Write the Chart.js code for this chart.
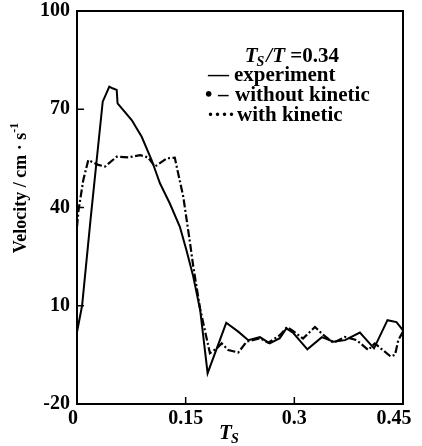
<!DOCTYPE html>
<html>
<head>
<meta charset="utf-8">
<script src="https://cdn.jsdelivr.net/npm/chart.js@4"></script>
<style>
  html, body { margin: 0; padding: 0; background: #fff; }
  #wrap { width: 422px; height: 446px; }
</style>
</head>
<body>
<div id="wrap"><canvas id="c" width="422" height="446"></canvas></div>
<script>
const xTicks = [0, 0.15, 0.3, 0.45];
const yTicks = [-20, 10, 40, 70, 100];

// experiment (solid)
const expX = [0, 0.007, 0.019, 0.0355, 0.0446, 0.049, 0.0548, 0.056, 0.0755, 0.0893,
  0.103, 0.1145, 0.128, 0.142, 0.151, 0.1605, 0.170, 0.1803, 0.206, 0.2226,
  0.2364, 0.2525, 0.266, 0.280, 0.289, 0.298, 0.318, 0.338, 0.354, 0.37,
  0.3905, 0.410, 0.4286, 0.441, 0.450];
const expY = [2, 10, 37, 72.3, 76.9, 76.4, 75.9, 71.8, 66.7, 61.6,
  54.5, 47.4, 41.3, 34.1, 27, 18.9, 8.7, -10.6, 4.8, 2.1,
  -0.5, 0.4, -1.5, 0.1, 3.1, 1.8, -3.3, 0.4, -1.0, -0.5,
  1.8, -3.0, 5.6, 5.0, 2.5];

// model curves (dash and dotted lie on top of each other)
const modelX = [0, 0.002, 0.0087, 0.0156, 0.0294, 0.0386, 0.0548, 0.0708, 0.087, 0.098,
  0.1076, 0.1238, 0.135, 0.1376, 0.1467, 0.156, 0.1605, 0.170, 0.177, 0.1835,
  0.193, 0.1997, 0.2088, 0.2226, 0.234, 0.2525, 0.264, 0.280, 0.290, 0.300,
  0.312, 0.3285, 0.340, 0.354, 0.37, 0.386, 0.402, 0.411, 0.422, 0.433,
  0.439, 0.4435, 0.450];
const withoutKineticY = [34, 39, 48.4, 54.5, 53, 52.5, 55.5, 55.3, 56, 55.3,
  52.5, 55, 55.2, 52.5, 43.3, 29.2, 22, 9, 2, -4.5,
  -3.0, -1.5, -3.5, -4.3, -1.0, 0.1, -1.3, 1.0, 3.5, 2.0,
  0.0, 3.5, 1.1, -1.3, 0.5, -0.5, -3.5, -1.5, -3.5, -5.5,
  -5.0, -0.5, 2.1];
const withKineticY = [34, 39, 48.4, 54.5, 53, 52.5, 55.5, 55.3, 56, 55.3,
  52.5, 55, 55.2, 52.5, 43.3, 29.2, 22, 9, 2, -4.5,
  -3.0, -1.5, -3.5, -4.3, -1.0, 0.1, -1.3, 1.0, 3.5, 2.0,
  0.0, 3.5, 1.1, -1.3, 0.5, -0.5, -3.5, -1.5, -3.5, -5.5,
  -5.0, -0.5, 2.1];

const pts = (xs, ys) => xs.map((x, i) => ({ x, y: ys[i] }));

const SERIF = '"Liberation Serif", "Times New Roman", serif';

// draws the box, inward ticks, x labels, axis titles and the text legend
const decorations = {
  id: 'decorations',
  afterDraw(chart) {
    const { ctx, chartArea: a, scales } = chart;
    ctx.save();
    ctx.strokeStyle = '#000';
    ctx.lineWidth = 2;
    ctx.strokeRect(a.left, a.top, a.right - a.left, a.bottom - a.top);

    ctx.lineWidth = 1.5;
    ctx.beginPath();
    yTicks.forEach(v => {
      const y = scales.y.getPixelForValue(v);
      ctx.moveTo(a.left, y); ctx.lineTo(a.left + 7, y);
    });
    xTicks.forEach(v => {
      const x = scales.x.getPixelForValue(v);
      ctx.moveTo(x, a.bottom); ctx.lineTo(x, a.bottom - 7);
    });
    ctx.stroke();

    ctx.fillStyle = '#000';

    // x tick labels (the outer two sit a little to the left in the original)
    ctx.font = 'bold 20px ' + SERIF;
    ctx.textAlign = 'center';
    ctx.textBaseline = 'top';
    const nudge = [-4, 0, 0, -9];
    xTicks.forEach((v, i) => {
      ctx.fillText(String(v), scales.x.getPixelForValue(v) + nudge[i], a.bottom + 5);
    });

    ctx.textAlign = 'left';
    ctx.textBaseline = 'alphabetic';

    // y title
    ctx.save();
    ctx.translate(26, 188);
    ctx.rotate(-Math.PI / 2);
    ctx.font = 'bold 18px ' + SERIF;
    const main = 'Velocity / cm \u00b7 s';
    const w1 = ctx.measureText(main).width;
    ctx.font = 'bold 12px ' + SERIF;
    const w2 = ctx.measureText('-1').width;
    const sx = -(w1 + w2) / 2;
    ctx.font = 'bold 18px ' + SERIF;
    ctx.fillText(main, sx, 0);
    ctx.font = 'bold 12px ' + SERIF;
    ctx.fillText('-1', sx + w1, -8);
    ctx.restore();

    // x title T_S
    ctx.font = 'italic bold 21px ' + SERIF;
    ctx.fillText('T', 219, 439);
    ctx.font = 'italic bold 14px ' + SERIF;
    ctx.fillText('S', 231, 443);

    // legend header, right end near x=339
    ctx.font = 'bold 21px ' + SERIF;
    const eqW = ctx.measureText('=0.34').width;
    ctx.font = 'italic bold 21px ' + SERIF;
    const tW = ctx.measureText('T').width;
    const slW = ctx.measureText('/T ').width;
    ctx.font = 'italic bold 14px ' + SERIF;
    const sW = ctx.measureText('S').width + 1;
    let x = 339 - eqW - slW - sW - tW;
    ctx.font = 'italic bold 21px ' + SERIF;
    ctx.fillText('T', x, 62); x += tW;
    ctx.font = 'italic bold 14px ' + SERIF;
    ctx.fillText('S', x - 1, 66); x += sW;
    ctx.font = 'italic bold 21px ' + SERIF;
    ctx.fillText('/T ', x, 62); x += slW;
    ctx.font = 'bold 21px ' + SERIF;
    ctx.fillText('=0.34', x, 62);

    // legend rows: marker glyphs then words starting near x=234
    ctx.font = 'bold 21px ' + SERIF;
    ctx.fillText('\u2014', 208, 81);
    ctx.fillText('experiment', 234, 81);
    ctx.fillText('\u2022', 205, 101);
    ctx.fillText('\u2013', 218, 101);
    ctx.fillText('without kinetic', 235, 101);
    ctx.fillText('\u00b7\u00b7\u00b7\u00b7', 207, 121);
    ctx.fillText('with kinetic', 237, 121);
    ctx.restore();
  }
};

new Chart(document.getElementById('c'), {
  type: 'line',
  data: {
    datasets: [
      {
        label: 'experiment',
        data: pts(expX, expY),
        borderColor: '#000',
        borderWidth: 2,
        pointRadius: 0,
        tension: 0,
      },
      {
        label: 'without kinetic',
        data: pts(modelX, withoutKineticY),
        borderColor: '#000',
        borderWidth: 2.2,
        borderDash: [8, 7],
        pointRadius: 0,
        tension: 0,
      },
      {
        label: 'with kinetic',
        data: pts(modelX, withKineticY),
        borderColor: '#000',
        borderWidth: 2.2,
        borderDash: [2, 13],
        borderDashOffset: -10.5,
        pointRadius: 0,
        tension: 0,
      },
    ],
  },
  options: {
    responsive: false,
    animation: false,
    devicePixelRatio: 1,
    layout: { padding: { left: 0, top: 11, right: 19, bottom: 0 } },
    plugins: {
      legend: { display: false },
      tooltip: { enabled: false },
    },
    scales: {
      x: {
        type: 'linear',
        min: 0,
        max: 0.45,
        afterFit: s => {
          s.height = 42;
          s.paddingLeft = 0; s.paddingRight = 0;
        },
        afterBuildTicks: s => { s.ticks = xTicks.map(v => ({ value: v })); },
        grid: { display: false, drawTicks: false },
        border: { display: false },
        ticks: { display: false },
      },
      y: {
        min: -20,
        max: 100,
        afterFit: s => {
          s.width = 77;
          s.paddingTop = 0; s.paddingBottom = 0;
        },
        afterBuildTicks: s => { s.ticks = yTicks.map(v => ({ value: v })); },
        grid: { display: false, drawTicks: false },
        border: { display: false },
        ticks: {
          padding: 7,
          color: '#000',
          font: { family: SERIF, size: 20, weight: 'bold' },
          callback: v => String(v),
        },
      },
    },
  },
  plugins: [decorations],
});
</script>
</body>
</html>
